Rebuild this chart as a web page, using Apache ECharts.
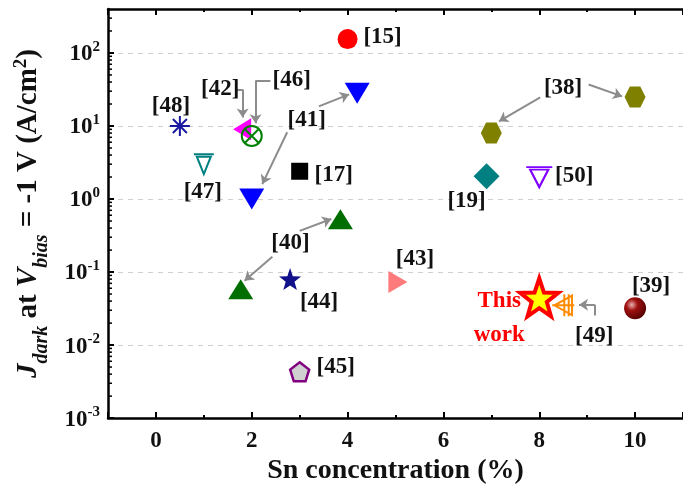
<!DOCTYPE html>
<html>
<head>
<meta charset="utf-8">
<script src="https://cdn.jsdelivr.net/npm/echarts@6/dist/echarts.min.js"></script>
<style>
  html, body { margin: 0; padding: 0; background: #fff; }
  #chart { width: 683px; height: 490px; }
</style>
</head>
<body>
<div id="chart"></div>
<script>
// Datos
var refLabels = ['[15]', '[48]', '[42]', '[46]', '[47]', '[17]', '[41]', '[40]', '[44]', '[43]', '[45]', '[38]', '[19]', '[50]', 'This\nwork', '[49]', '[39]'];
var snPct = [[4], [0.5], [1.8], [2], [1], [3], [2, 4.2], [3.85, 1.77], [2.8], [5.05], [3], [10, 7], [6.9], [8], [8], [8.5], [10]];
var jDark = [[155], [10], [9], [7.3], [3], [2.4], [1.0, 28], [0.53, 0.058], [0.08], [0.073], [0.0043], [25, 8], [2.05], [2], [0.045], [0.035], [0.032]];

// flechas de anotacion (coordenadas de datos)
var arrowPaths = [
  [[1.65, 31.6], [1.81, 31.6], [1.81, 13.1]],
  [[2.39, 42], [2.08, 42], [2.08, 10.9]],
  [[3.40, 18.6], [4.03, 27.1]],
  [[2.74, 8.2], [2.22, 1.6]],
  [[3.00, 0.366], [3.66, 0.533]],
  [[2.43, 0.162], [1.85, 0.076]],
  [[9.03, 37], [9.73, 25.4]],
  [[8.02, 24.6], [7.16, 11.6]],
  [[9.16, 0.0254], [9.16, 0.0358], [8.83, 0.0358]]
];

var SERIF = '"Liberation Serif", "Times New Roman", serif';

var P_STAR = 'path://M0,-10 L2.35,-3.24 L9.51,-3.09 L3.80,1.24 L5.88,8.09 L0,4.2 L-5.88,8.09 L-3.80,1.24 L-9.51,-3.09 L-2.35,-3.24 Z';
var P_HEX = 'path://M-10,0 L-5,-8.66 L5,-8.66 L10,0 L5,8.66 L-5,8.66 Z';
var P_PENT = 'path://M0,-10 L9.51,-3.09 L5.88,8.09 L-5.88,8.09 L-9.51,-3.09 Z';
var P_AST = 'path://M0,-10 L0,10 M-10,0 L10,0 M-7,-7 L7,7 M-7,7 L7,-7';
var P_TBAR = 'path://M-10,-7 L10,-7 M-7,-5 L7,-5 L0,9 Z';
var P_CX = 'path://M-7,-7 L7,7 M-7,7 L7,-7 M9,0 A9,9 0 1 1 -9,0 A9,9 0 1 1 9,0 Z';
var P_49 = 'path://M8,-8 L-8,0 L8,8 Z M-10,0 L10,0 M1,-9 L1,9 M5,-9 L5,9';

// estilo de cada serie (mismo orden que refLabels)
var styles = [
  { symbol: 'circle', size: 20, color: '#ff0000', off: [35, -2] },
  { symbol: P_AST, size: 20, color: 'none', border: '#1a1aa0', bw: 2, off: [-9, -20] },
  { symbol: 'triangle', size: [22, 18], rotate: 90, color: '#ff00ff', off: [-22, -40] },
  { symbol: P_CX, size: 20, color: 'none', border: '#008000', bw: 2, off: [40, -56] },
  { symbol: P_TBAR, size: 20, color: 'none', border: '#008080', bw: 2, off: [-1, 28] },
  { symbol: 'rect', size: 17, color: '#000000', off: [34, 4] },
  { symbol: 'triangle', size: [25, 21], rotate: 180, color: '#0000ff', off: [55, -79] },
  { symbol: 'triangle', size: [25, 20], color: '#006e00', off: [-50, 24] },
  { symbol: P_STAR, size: 22, color: '#10108a', off: [29, 23] },
  { symbol: 'triangle', size: [22, 19], rotate: -90, color: '#ff7a7a', off: [17, -23] },
  { symbol: P_PENT, size: 19, color: '#d0d0d0', border: '#800080', bw: 2.5, off: [36, -5] },
  { symbol: P_HEX, size: 21, color: '#808000', off: [-72, -9] },
  { symbol: 'diamond', size: 26, color: '#008080', off: [-20, 25] },
  { symbol: P_TBAR, size: [26, 20], color: 'none', border: '#8000ff', bw: 2, off: [35, -1] },
  { symbol: P_STAR, size: 38, color: '#ffff00', border: '#ff0000', bw: 4, off: [-40, 21], text: '#ff0000' },
  { symbol: P_49, size: 22, color: 'none', border: '#ff8c00', bw: 2, off: [31, 31] },
  { symbol: 'circle', size: 22, color: {
      type: 'radial', x: 0.35, y: 0.35, r: 0.75,
      colorStops: [{ offset: 0, color: '#e8b0b0' }, { offset: 0.35, color: '#a01010' }, { offset: 1, color: '#4a0000' }]
    }, off: [16, -22] }
];

var series = refLabels.map(function (name, i) {
  var st = styles[i];
  var data = snPct[i].map(function (x, j) {
    var item = { value: [x, jDark[i][j]] };
    if (j > 0) item.label = { show: false };
    return item;
  });
  return {
    type: 'scatter',
    name: name,
    data: data,
    symbol: st.symbol,
    symbolSize: st.size,
    symbolRotate: st.rotate || 0,
    itemStyle: {
      color: st.color,
      borderColor: st.border || st.color,
      borderWidth: st.bw || 0,
      opacity: 1
    },
    label: {
      show: true,
      position: 'inside',
      offset: st.off,
      formatter: name,
      color: st.text || '#111',
      fontFamily: SERIF,
      fontWeight: 'bold',
      fontSize: 23,
      lineHeight: 34
    },
    z: 5,
    silent: true
  };
});

// flechas grises
var arrowData = [];
arrowPaths.forEach(function (p) {
  for (var k = 0; k < p.length - 1; k++) {
    var last = k === p.length - 2;
    arrowData.push([
      { coord: p[k], symbol: 'none' },
      { coord: p[k + 1], symbol: last ? 'arrow' : 'none', symbolSize: 9 }
    ]);
  }
});
series.push({
  type: 'scatter',
  data: [],
  silent: true,
  markLine: {
    silent: true,
    animation: false,
    label: { show: false },
    lineStyle: { color: '#8c8c8c', width: 2, type: 'solid' },
    data: arrowData
  }
});

// marcas menores logaritmicas en el eje y
var minorVals = [];
for (var e = -3; e <= 2; e++) {
  for (var m = 2; m <= 9; m++) {
    var v = m * Math.pow(10, e);
    if (v < 400) minorVals.push([-1, v]);
  }
}
series.push({
  type: 'custom',
  silent: true,
  data: minorVals,
  z: 10,
  renderItem: function (params, api) {
    var p = api.coord([api.value(0), api.value(1)]);
    return {
      type: 'line',
      shape: { x1: p[0], y1: p[1], x2: p[0] + 4, y2: p[1] },
      style: { stroke: '#000', lineWidth: 1.5 }
    };
  }
});

var chart = echarts.init(document.getElementById('chart'));
chart.setOption({
  animation: false,
  backgroundColor: '#fff',
  grid: { left: 108, right: -9, top: 9, bottom: 70 },
  xAxis: [{
    type: 'value',
    min: -1,
    max: 11,
    splitNumber: 6,
    name: 'Sn concentration (%)',
    nameLocation: 'middle',
    nameGap: 38,
    nameTextStyle: { fontFamily: SERIF, fontWeight: 'bold', fontSize: 28, color: '#111' },
    axisLine: { onZero: false, lineStyle: { color: '#000', width: 2.5 } },
    axisTick: { inside: true, length: 6, lineStyle: { color: '#000', width: 2 } },
    minorTick: { show: true, splitNumber: 2, length: 3, lineStyle: { color: '#000', width: 2 } },
    axisLabel: {
      margin: 11, showMinLabel: false, showMaxLabel: false,
      fontFamily: SERIF, fontWeight: 'bold', fontSize: 23, color: '#111'
    },
    splitLine: { show: false }
  }, {
    type: 'value',
    position: 'top',
    min: -1,
    max: 11,
    splitNumber: 6,
    axisLine: { onZero: false, lineStyle: { color: '#000', width: 2.5 } },
    axisTick: { inside: true, length: 6, lineStyle: { color: '#000', width: 2 } },
    minorTick: { show: true, splitNumber: 2, length: 3, lineStyle: { color: '#000', width: 2 } },
    axisLabel: { show: false },
    splitLine: { show: false }
  }],
  yAxis: {
    type: 'log',
    min: 0.001,
    max: 400,
    name: '{i|J}{sub|dark}{n| at }{i|V}{sub|bias}{n| = -1 V (A/cm}{sup|2}{n|)}',
    nameLocation: 'middle',
    nameRotate: 90,
    nameGap: 62,
    nameTextStyle: {
      rich: {
        n: { fontFamily: SERIF, fontWeight: 'bold', fontSize: 29, color: '#111', lineHeight: 34 },
        i: { fontFamily: SERIF, fontWeight: 'bold', fontStyle: 'italic', fontSize: 29, color: '#111', lineHeight: 34 },
        sub: { fontFamily: SERIF, fontWeight: 'bold', fontStyle: 'italic', fontSize: 20, color: '#111', verticalAlign: 'bottom', lineHeight: 34, padding: [0, 0, -6, 0] },
        sup: { fontFamily: SERIF, fontWeight: 'bold', fontSize: 19, color: '#111', verticalAlign: 'top', lineHeight: 34 }
      }
    },
    axisLine: { onZero: false, lineStyle: { color: '#000', width: 2.5 } },
    axisTick: { inside: true, length: 6, lineStyle: { color: '#000', width: 2 } },
    axisLabel: {
      margin: 8,
      showMaxLabel: false,
      formatter: function (v) {
        return '{b|10}{s|' + Math.round(Math.log10(v)) + '}';
      },
      rich: {
        b: { fontFamily: SERIF, fontWeight: 'bold', fontSize: 23, color: '#111', lineHeight: 26, verticalAlign: 'bottom' },
        s: { fontFamily: SERIF, fontWeight: 'bold', fontSize: 15, color: '#111', lineHeight: 26, verticalAlign: 'top' }
      }
    },
    splitLine: { show: true, lineStyle: { color: '#cfcfcf', width: 1, type: [5, 5] } }
  },
  series: series
});
</script>
</body>
</html>
